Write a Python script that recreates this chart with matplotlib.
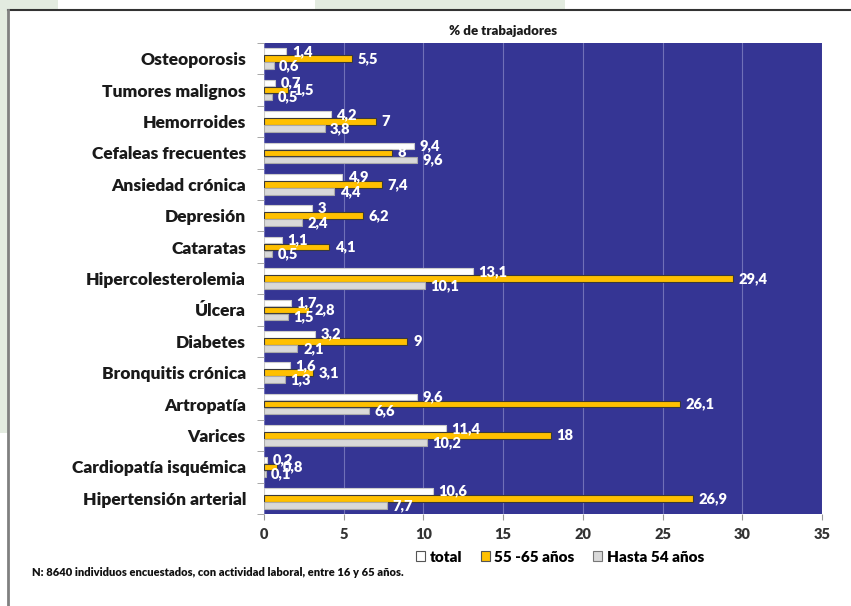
import matplotlib
matplotlib.use("Agg")
import matplotlib.pyplot as plt
from matplotlib.patches import Rectangle, Patch
from matplotlib.lines import Line2D
import numpy as np

plt.rcParams['font.family'] = ['Lato', 'DejaVu Sans']

categorias = ["Osteoporosis", "Tumores malignos", "Hemorroides", "Cefaleas frecuentes",
              "Ansiedad crónica", "Depresión", "Cataratas", "Hipercolesterolemia",
              "Úlcera", "Diabetes", "Bronquitis crónica", "Artropatía", "Varices",
              "Cardiopatía isquémica", "Hipertensión arterial"]
total = [1.4, 0.7, 4.2, 9.4, 4.9, 3, 1.1, 13.1, 1.7, 3.2, 1.6, 9.6, 11.4, 0.2, 10.6]
edad_55_65 = [5.5, 1.5, 7, 8, 7.4, 6.2, 4.1, 29.4, 2.8, 9, 3.1, 26.1, 18, 0.8, 26.9]
hasta_54 = [0.6, 0.5, 3.8, 9.6, 4.4, 2.4, 0.5, 10.1, 1.5, 2.1, 1.3, 6.6, 10.2, 0.1, 7.7]
nombres_series = ["total", "55 -65 años", "Hasta 54 años"]

W, H = 851, 606
fig = plt.figure(figsize=(W / 100, H / 100), dpi=100)
fig.patch.set_facecolor("white")

# fondo decorativo verde claro
verde = "#e3ebe0"
for x0, y0, w, h in [(0, 0, 58, 10), (315, 0, 250, 10), (0, 0, 8, 433)]:
    fig.patches.append(Rectangle((x0 / W, 1 - (y0 + h) / H), w / W, h / H,
                                 transform=fig.transFigure, facecolor=verde,
                                 edgecolor="none", zorder=0))
# bordes del panel blanco
fig.add_artist(Line2D([8 / W, 1], [1 - 9.5 / H, 1 - 9.5 / H], transform=fig.transFigure,
                      color="#333333", lw=1.5))
fig.add_artist(Line2D([8 / W, 8 / W], [1 - 9.5 / H, 1 - 605 / H], transform=fig.transFigure,
                      color="#808080", lw=2))

ax = fig.add_axes([264 / W, 1 - 514 / H, (822 - 264) / W, (514 - 43) / H])
ax.set_facecolor("#353594")

y = np.arange(len(categorias))
h = 0.21
off = 0.225
series = [total, edad_55_65, hasta_54]
colores = ["white", "#ffc000", "#d9d9d9"]
bordes = ["#cccccc", "#3a3a3a", "#aaaaaa"]
for k, (vals, c, e) in enumerate(zip(series, colores, bordes)):
    pos = y + (k - 1) * off
    ax.barh(pos, vals, height=h, color=c, edgecolor=e, linewidth=0.8, zorder=3)
    for p, v in zip(pos, vals):
        ax.annotate(f"{v:g}".replace(".", ","), (v, p), xytext=(4, 0),
                    textcoords="offset points", va="center", ha="left",
                    color="white", fontsize=10.5, fontweight="heavy", zorder=4)

ax.set_xlim(0, 35)
ax.set_ylim(len(categorias) - 0.5, -0.5)
ax.set_xticks(np.arange(0, 36, 5))
ax.grid(axis="x", color="#7070b8", lw=0.8, zorder=1)
ax.set_yticks(y)
ax.set_yticklabels(categorias, fontsize=12.5, fontweight="heavy", color="#1a1a1a")
ax.set_yticks(np.arange(-0.5, len(categorias), 1), minor=True)
ax.tick_params(axis="y", which="major", length=0, pad=13)
ax.tick_params(axis="y", which="minor", length=5, color="#999999")
ax.tick_params(axis="x", length=4, color="#999999", labelsize=10.5, labelcolor="#333333", pad=6)
for t in ax.get_xticklabels():
    t.set_fontweight("heavy")
for s in ax.spines.values():
    s.set_visible(False)

fig.text(503 / W, 1 - 31 / H, "% de trabajadores", ha="center", va="center",
         fontsize=9.5, fontweight="heavy", color="#1a1a1a")

handles = [Patch(facecolor=c, edgecolor=e, linewidth=0.8) for c, e in zip(colores, ["#555555", "#555555", "#777777"])]
fig.legend(handles, nombres_series, loc="center", bbox_to_anchor=(560 / W, 1 - 557 / H),
           ncol=3, frameon=False, handlelength=0.6, handleheight=0.6,
           handletextpad=0.3, columnspacing=1.2, prop={"weight": "heavy", "size": 11})

fig.text(32 / W, 1 - 572 / H,
         "N: 8640 individuos encuestados, con actividad laboral, entre 16 y 65 años.",
         ha="left", va="center", fontsize=8, fontweight="heavy", color="#111111")

fig.savefig("out.png", dpi=100)
